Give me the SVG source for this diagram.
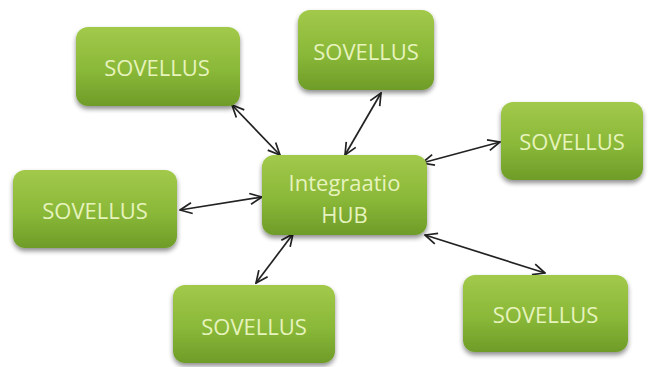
<svg xmlns="http://www.w3.org/2000/svg" width="657" height="367" viewBox="0 0 657 367">
  <defs>
    <linearGradient id="boxFill" x1="0" y1="0" x2="0" y2="1">
      <stop offset="0" stop-color="#a2c94a"/>
      <stop offset="0.55" stop-color="#8ab838"/>
      <stop offset="1" stop-color="#6e9c28"/>
    </linearGradient>
    <filter id="shadow" x="-10%" y="-10%" width="120%" height="130%">
      <feGaussianBlur in="SourceAlpha" stdDeviation="2.5"/>
      <feOffset dx="0" dy="3" result="b"/>
      <feComponentTransfer><feFuncA type="linear" slope="0.45"/></feComponentTransfer>
      <feMerge><feMergeNode/><feMergeNode in="SourceGraphic"/></feMerge>
    </filter>
    <marker id="head" viewBox="0 0 14 14" refX="13" refY="7" markerWidth="14" markerHeight="14" markerUnits="userSpaceOnUse" orient="auto-start-reverse">
      <path d="M1,1.5 L13,7 L1,12.5" fill="none" stroke="#222" stroke-width="1.7"/>
    </marker>
    <style>
      .box { fill: url(#boxFill); filter: url(#shadow); }
      .lbl { font-family: "Open Sans", "Liberation Sans", sans-serif; font-size: 22px; fill: #e6f3bd; text-anchor: middle; dominant-baseline: central; }
      .link { stroke: #222; stroke-width: 1.7; fill: none; marker-start: url(#head); marker-end: url(#head); }
    </style>
  </defs>
  <rect width="657" height="367" fill="#ffffff"/>

  <g id="connectors">
    <line class="link" x1="232" y1="105" x2="280" y2="155"/>
    <line class="link" x1="381" y1="93" x2="345" y2="155"/>
    <line class="link" x1="422" y1="163" x2="500" y2="142"/>
    <line class="link" x1="180" y1="210" x2="262" y2="197"/>
    <line class="link" x1="425" y1="235" x2="545" y2="273"/>
    <line class="link" x1="293" y1="234" x2="256" y2="283"/>
  </g>

  <g id="app-top-left">
    <rect class="box" x="76" y="27" width="164" height="79" rx="12"/>
    <text class="lbl" x="157" y="67">SOVELLUS</text>
  </g>
  <g id="app-top">
    <rect class="box" x="298" y="10" width="136" height="80" rx="12"/>
    <text class="lbl" x="366" y="51">SOVELLUS</text>
  </g>
  <g id="app-right">
    <rect class="box" x="501" y="102" width="142" height="78" rx="12"/>
    <text class="lbl" x="572" y="141">SOVELLUS</text>
  </g>
  <g id="app-left">
    <rect class="box" x="13" y="170" width="164" height="78" rx="12"/>
    <text class="lbl" x="95" y="210">SOVELLUS</text>
  </g>
  <g id="hub">
    <rect class="box" x="262" y="155" width="165" height="80" rx="12"/>
    <text class="lbl" x="344.5" y="182">Integraatio</text>
    <text class="lbl" x="344.5" y="214">HUB</text>
  </g>
  <g id="app-bottom">
    <rect class="box" x="173" y="285" width="162" height="78" rx="12"/>
    <text class="lbl" x="254" y="326">SOVELLUS</text>
  </g>
  <g id="app-bottom-right">
    <rect class="box" x="463" y="275" width="165" height="77" rx="12"/>
    <text class="lbl" x="545.5" y="314">SOVELLUS</text>
  </g>
</svg>
